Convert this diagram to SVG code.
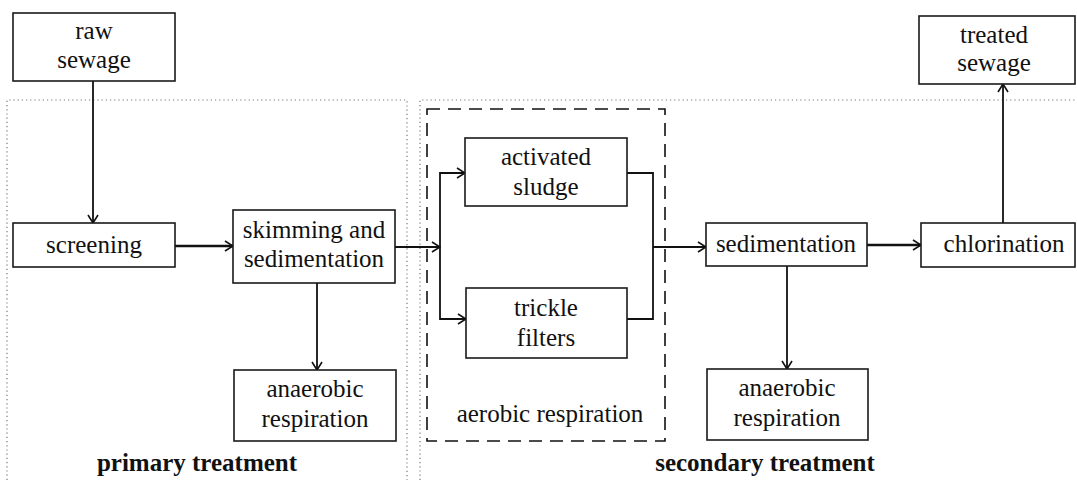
<svg xmlns="http://www.w3.org/2000/svg" width="1077" height="480" viewBox="0 0 1077 480">
<defs>
<style>
.box{fill:#fff;stroke:#1a1a1a;stroke-width:1.6}
.t{font-size:25px;fill:#111;text-anchor:middle}
.b{font-weight:bold}
.ln{fill:none;stroke:#111;stroke-width:1.8}
.dot{fill:none;stroke:#777;stroke-width:1.2;stroke-dasharray:1.2 3}
.dash{fill:none;stroke:#111;stroke-width:1.6;stroke-dasharray:13 8}
</style>
<marker id="ah" markerWidth="10" markerHeight="12" refX="9" refY="6" orient="auto" markerUnits="userSpaceOnUse">
<path d="M1,1 L9,6 L1,11" fill="none" stroke="#111" stroke-width="1.6"/>
</marker>
</defs>
<rect width="1077" height="480" fill="#fff"/>
<g id="regions">
<path class="dot" d="M7,480 V100 H407 V480"/>
<path class="dot" d="M420,480 V100 H1077"/>
<rect class="dash" x="427" y="109" width="238" height="332"/>
</g>
<g id="connectors">
<line class="ln" x1="93" y1="81" x2="93" y2="223" marker-end="url(#ah)"/>
<line class="ln" x1="175" y1="246" x2="233" y2="246" marker-end="url(#ah)" style="stroke-width:2.6"/>
<line class="ln" x1="395" y1="247" x2="440" y2="247" marker-end="url(#ah)"/>
<path class="ln" d="M465,173 H440 V319 H466" marker-end="url(#ah)"/>
<line class="ln" x1="440" y1="173" x2="465" y2="173" marker-end="url(#ah)"/>
<path class="ln" d="M627,173 H653 V319 H627"/>
<line class="ln" x1="653" y1="247" x2="706" y2="247" marker-end="url(#ah)"/>
<line class="ln" x1="867" y1="245" x2="921" y2="245" marker-end="url(#ah)" style="stroke-width:2.4"/>
<line class="ln" x1="1003" y1="223" x2="1003" y2="84" marker-end="url(#ah)"/>
<line class="ln" x1="317" y1="283" x2="317" y2="370" marker-end="url(#ah)"/>
<line class="ln" x1="787" y1="266" x2="787" y2="369" marker-end="url(#ah)"/>
</g>
<g id="raw-sewage"><rect class="box" x="13" y="13" width="162" height="68"/><text class="t" font-family="Liberation Serif" x="94" y="39">raw</text><text class="t" font-family="Liberation Serif" x="94" y="68">sewage</text></g>
<g id="treated-sewage"><rect class="box" x="919" y="16" width="156" height="68"/><text class="t" font-family="Liberation Serif" x="994" y="43">treated</text><text class="t" font-family="Liberation Serif" x="994" y="71">sewage</text></g>
<g id="screening"><rect class="box" x="13" y="223" width="162" height="44"/><text class="t" font-family="Liberation Serif" x="94" y="253">screening</text></g>
<g id="skimming"><rect class="box" x="233" y="210" width="162" height="73"/><text class="t" font-family="Liberation Serif" x="314" y="238">skimming and</text><text class="t" font-family="Liberation Serif" x="314" y="267">sedimentation</text></g>
<g id="anaerobic-1"><rect class="box" x="234" y="370" width="162" height="71"/><text class="t" font-family="Liberation Serif" x="315" y="397">anaerobic</text><text class="t" font-family="Liberation Serif" x="315" y="427">respiration</text></g>
<g id="activated-sludge"><rect class="box" x="465" y="138" width="162" height="68"/><text class="t" font-family="Liberation Serif" x="546" y="165">activated</text><text class="t" font-family="Liberation Serif" x="546" y="195">sludge</text></g>
<g id="trickle-filters"><rect class="box" x="466" y="288" width="161" height="70"/><text class="t" font-family="Liberation Serif" x="546" y="316">trickle</text><text class="t" font-family="Liberation Serif" x="546" y="346">filters</text></g>
<g id="aerobic-label"><text class="t" font-family="Liberation Serif" x="550" y="422">aerobic respiration</text></g>
<g id="sedimentation"><rect class="box" x="706" y="223" width="161" height="43"/><text class="t" font-family="Liberation Serif" x="786" y="252">sedimentation</text></g>
<g id="chlorination"><rect class="box" x="921" y="223" width="154" height="44"/><text class="t" font-family="Liberation Serif" x="1004" y="252">chlorination</text></g>
<g id="anaerobic-2"><rect class="box" x="707" y="369" width="161" height="71"/><text class="t" font-family="Liberation Serif" x="787" y="396">anaerobic</text><text class="t" font-family="Liberation Serif" x="787" y="426">respiration</text></g>
<g id="labels"><text class="t b" font-family="Liberation Serif" x="197" y="471">primary treatment</text><text class="t b" font-family="Liberation Serif" x="765" y="471">secondary treatment</text></g>
</svg>
